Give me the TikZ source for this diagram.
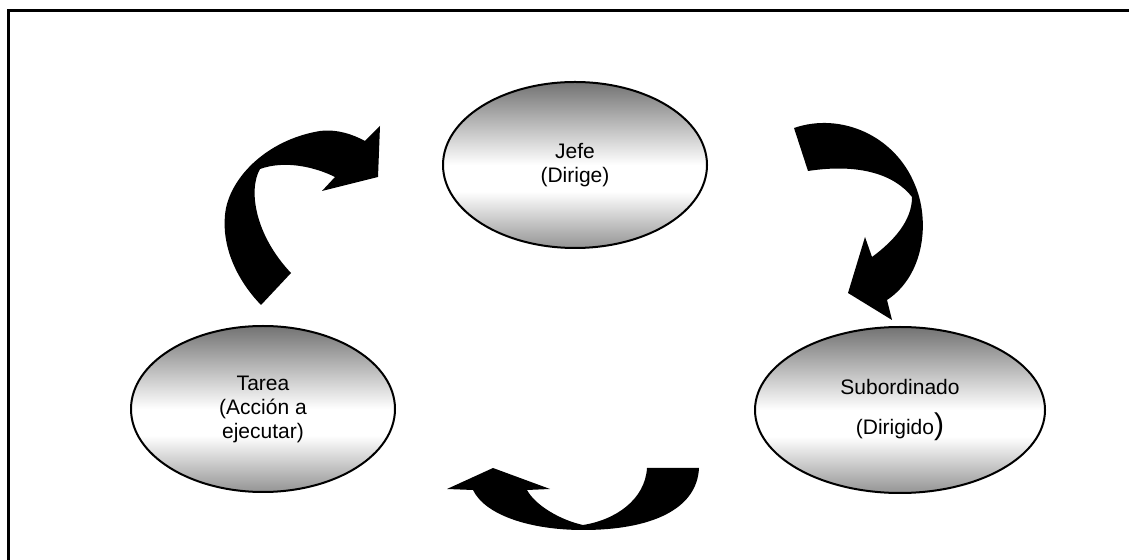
\documentclass[tikz,border=0pt]{standalone}
\usepackage{fontspec}
\setmainfont{Liberation Sans}
\usetikzlibrary{shapes.geometric}
\pgfdeclareverticalshading{ovalshade}{100bp}{color(0bp)=(black!42); color(25bp)=(black!42); color(42bp)=(white); color(50bp)=(white); color(75bp)=(black!55); color(100bp)=(black!55)}

\begin{document}
\begin{tikzpicture}[x=0.5pt, y=-0.5pt]

        \useasboundingbox (0,0) rectangle (1129,560);
        \draw[line width=1.5pt] (8.5,560) -- (8.5,11) -- (1129,11);

        \begin{scope}[every node/.style={ellipse, draw, line width=1pt, shade, shading=ovalshade, align=center, minimum height=83pt, font=\fontsize{10.5}{12}\selectfont}]
          \node (jefe)  [minimum width=132pt] at (575,165) {Jefe\\(Dirige)};
          \node (sub)   [minimum width=145pt] at (900,410) {Subordinado\\[8pt](Dirigido{\fontsize{15}{12}\selectfont)}};
          \node (tarea) [minimum width=132pt] at (263,409) {Tarea\\(Acción a\\ejecutar)};
        \end{scope}

        \begin{scope}[bigarrow/.style={fill=black}]
          \path[bigarrow] (261,305) .. controls (235,278) and (222,245) .. (225,215)
            .. controls (228,180) and (265,140) .. (320,131)
            .. controls (337,129) and (352,134) .. (365,141)
            -- (380,126) -- (378,177) -- (322,191) -- (335,177)
            .. controls (315,167) and (285,160) .. (260,169)
            .. controls (248,190) and (255,235) .. (291,273) -- cycle;
          \path[bigarrow] (794,128) .. controls (840,112) and (895,135) .. (915,185)
            .. controls (930,220) and (925,275) .. (887,300)
            -- (892,320) -- (848,293) -- (865,237) -- (872,257)
            .. controls (895,240) and (912,220) .. (912,197)
            .. controls (895,175) and (860,163) .. (808,171) -- cycle;
          \path[bigarrow] (647,468) -- (699,468)
            .. controls (697,510) and (650,530) .. (583,530)
            .. controls (530,530) and (485,515) .. (473,490)
            -- (447,489) -- (493,468) -- (550,489) -- (527,490)
            .. controls (535,505) and (560,520) .. (583,525)
            .. controls (615,520) and (645,500) .. (647,468) -- cycle;
        \end{scope}

      \end{tikzpicture}
\end{document}
